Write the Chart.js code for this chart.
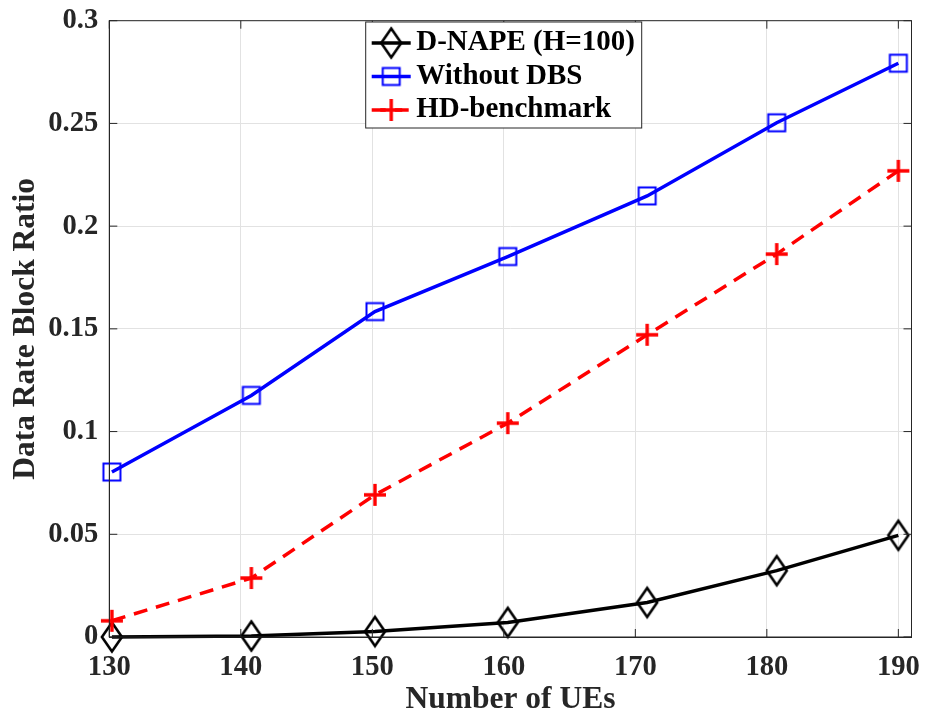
<!DOCTYPE html>
<html>
<head>
<meta charset="utf-8">
<script src="https://cdn.jsdelivr.net/npm/chart.js@4.4.0/dist/chart.umd.min.js"></script>
<style>
  html, body { margin: 0; padding: 0; background: #fff; }
  #wrap { width: 927px; height: 719px; }
</style>
</head>
<body>
<div id="wrap"><canvas id="grafico" width="927" height="719"></canvas></div>
<script>
// valores
const numeroUEs = [130.2, 140.8, 150.2, 160.3, 170.9, 180.75, 190];
const dnape = [0, 0.0005, 0.0027, 0.0071, 0.0168, 0.0323, 0.0495];
const semDBS = [0.0803, 0.1176, 0.1584, 0.1852, 0.2147, 0.2503, 0.2793];
const hdBenchmark = [0.0079, 0.0287, 0.0692, 0.1041, 0.1471, 0.1864, 0.2269];

const xTicks = [130, 140, 150, 160, 170, 180, 190];
const yTicks = [0, 0.05, 0.1, 0.15, 0.2, 0.25, 0.3];
const nomesSeries = ['D-NAPE (H=100)', 'Without DBS', 'HD-benchmark'];

const corTexto = '#262626';
const fonte = '"Liberation Serif", "Times New Roman", serif';

// marcadores estilo MATLAB (sem preenchimento)
function marcador(tipo, cor) {
  const c = document.createElement('canvas');
  c.width = 28;
  c.height = 38;
  const g = c.getContext('2d');
  g.strokeStyle = cor;
  g.beginPath();
  if (tipo === 'diamante') {
    g.lineWidth = 2.6;
    g.moveTo(14, 4.5); g.lineTo(24, 19); g.lineTo(14, 33.5); g.lineTo(4, 19); g.closePath();
  } else if (tipo === 'quadrado') {
    g.lineWidth = 2;
    g.rect(5.5, 10.5, 17, 17);
  } else {
    g.lineWidth = 3.4;
    g.moveTo(3, 19); g.lineTo(25, 19);
    g.moveTo(14, 8); g.lineTo(14, 30);
  }
  g.stroke();
  return c;
}

const pontos = serie => numeroUEs.map((x, i) => ({ x: x, y: serie[i] }));

const caixaEixos = {
  id: 'caixaEixos',
  afterDraw(chart) {
    const { ctx, chartArea: a, scales } = chart;
    ctx.save();
    ctx.strokeStyle = corTexto;
    ctx.lineWidth = 1;
    ctx.strokeRect(a.left, a.top, a.right - a.left, a.bottom - a.top);
    ctx.beginPath();
    xTicks.forEach(v => {
      const px = scales.x.getPixelForValue(v);
      ctx.moveTo(px, a.bottom); ctx.lineTo(px, a.bottom - 8);
      ctx.moveTo(px, a.top); ctx.lineTo(px, a.top + 8);
    });
    yTicks.forEach(v => {
      const py = scales.y.getPixelForValue(v);
      ctx.moveTo(a.left, py); ctx.lineTo(a.left + 8, py);
      ctx.moveTo(a.right, py); ctx.lineTo(a.right - 8, py);
    });
    ctx.stroke();
    ctx.restore();
  }
};

const legenda = {
  id: 'legenda',
  afterDraw(chart) {
    const { ctx, chartArea: a } = chart;
    const bx = a.left + 256.4, by = a.top + 1.3, bw = 276, bh = 106;
    ctx.save();
    ctx.fillStyle = '#ffffff';
    ctx.fillRect(bx, by, bw, bh);
    ctx.strokeStyle = corTexto;
    ctx.lineWidth = 1;
    ctx.strokeRect(bx, by, bw, bh);
    chart.data.datasets.forEach((ds, i) => {
      const cy = by + 21 + i * 33.5;
      ctx.strokeStyle = ds.borderColor;
      ctx.lineWidth = ds.borderWidth;
      ctx.setLineDash(ds.borderDash || []);
      ctx.beginPath();
      ctx.moveTo(bx + 6, cy);
      ctx.lineTo(bx + 45, cy);
      ctx.stroke();
      ctx.setLineDash([]);
      ctx.drawImage(ds.pointStyle, bx + 25.5 - 14, cy - 19);
      ctx.fillStyle = '#000000';
      ctx.font = 'bold 29px ' + fonte;
      ctx.textBaseline = 'middle';
      ctx.textAlign = 'left';
      ctx.fillText(ds.label, bx + 50.5, cy);
    });
    ctx.restore();
  }
};

const ctx = document.getElementById('grafico').getContext('2d');

new Chart(ctx, {
  type: 'line',
  data: {
    datasets: [{
      label: nomesSeries[0],
      data: pontos(dnape),
      borderColor: '#000000',
      borderWidth: 3.5,
      pointStyle: marcador('diamante', '#000000'),
      pointRadius: 12,
      tension: 0,
      clip: false,
      order: 2
    }, {
      label: nomesSeries[1],
      data: pontos(semDBS),
      borderColor: '#0000ff',
      borderWidth: 3.5,
      pointStyle: marcador('quadrado', '#0000ff'),
      pointRadius: 12,
      tension: 0,
      clip: false,
      order: 1
    }, {
      label: nomesSeries[2],
      data: pontos(hdBenchmark),
      borderColor: '#ff0000',
      borderWidth: 3.5,
      borderDash: [14, 9],
      pointStyle: marcador('cruz', '#ff0000'),
      pointRadius: 12,
      tension: 0,
      clip: false,
      order: 0
    }]
  },
  options: {
    responsive: false,
    animation: false,
    events: [],
    layout: { padding: { top: 20.7, right: 14.7, left: 0, bottom: 0 } },
    plugins: {
      legend: { display: false },
      tooltip: { enabled: false }
    },
    scales: {
      x: {
        type: 'linear',
        min: 130,
        max: 191,
        afterBuildTicks: s => { s.ticks = xTicks.map(v => ({ value: v })); },
        afterFit: s => {
          s.height = 82;
          s.paddingLeft = 0;
          s.paddingRight = 0;
        },
        ticks: {
          autoSkip: false,
          maxRotation: 0,
          padding: 13,
          color: corTexto,
          font: { family: fonte, size: 28.6, weight: 'bold' },
          callback: v => String(v)
        },
        grid: { color: '#e2e2e2', lineWidth: 1, drawTicks: false },
        border: { color: corTexto, width: 1 },
        title: {
          display: true,
          text: 'Number of UEs',
          color: corTexto,
          font: { family: fonte, size: 31.5, weight: 'bold' },
          padding: { top: 0, bottom: 0 }
        }
      },
      y: {
        min: 0,
        max: 0.3,
        afterBuildTicks: s => { s.ticks = yTicks.map(v => ({ value: v })); },
        afterFit: s => {
          s.width = 109.3;
          s.paddingTop = 0;
          s.paddingBottom = 0;
        },
        ticks: {
          padding: 11,
          color: corTexto,
          font: { family: fonte, size: 28.6, weight: 'bold' },
          callback: v => String(v)
        },
        grid: { color: '#e2e2e2', lineWidth: 1, drawTicks: false },
        border: { color: corTexto, width: 1 },
        title: {
          display: true,
          text: 'Data Rate Block Ratio',
          color: corTexto,
          font: { family: fonte, size: 31.5, weight: 'bold' },
          padding: { top: 7, bottom: 0 }
        }
      }
    }
  },
  plugins: [caixaEixos, legenda]
});
</script>
</body>
</html>
